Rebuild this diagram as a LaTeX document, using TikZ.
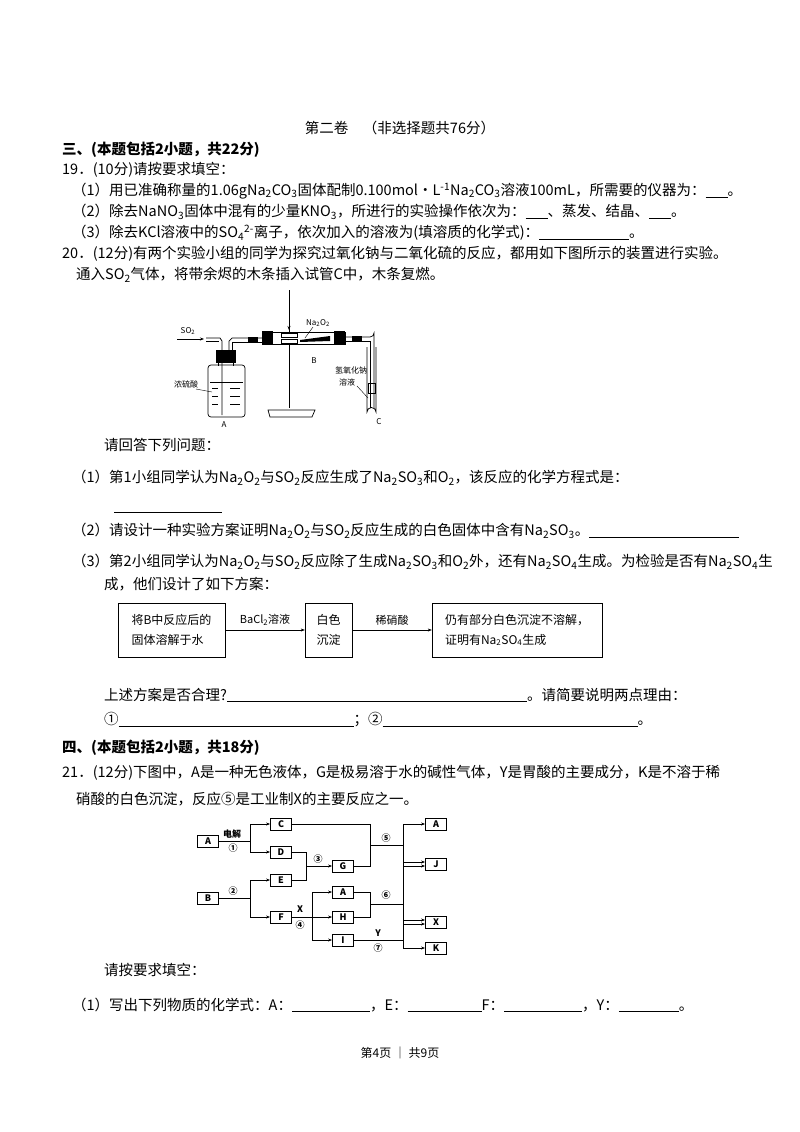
\documentclass[tikz,border=0pt]{standalone}
\usepackage{fontspec}
\setmainfont{Noto Sans CJK SC}
\usetikzlibrary{arrows.meta}
\newcommand{\sbs}[1]{\textsubscript{#1}}
\newcommand{\sps}[1]{\textsuperscript{#1}}
\newcommand{\blank}[1]{\underline{\hspace{#1pt}}}
\begin{document}
\begin{tikzpicture}[x=1pt,y=-1pt,
 txt/.style={anchor=west,inner sep=0,font=\fontsize{14.5}{17}\selectfont},
 fb/.style={draw,thick,minimum width=21pt,minimum height=12pt,inner sep=0,font=\fontsize{9}{9}\selectfont\bfseries},
 lab/.style={inner sep=0,font=\fontsize{9}{9}\selectfont\bfseries},
 arr/.style={-{Stealth[length=4pt,width=3pt]}},
 sb/.style={draw,align=left,inner sep=5pt,font=\fontsize{12}{20}\selectfont},
 ap/.style={line width=0.7pt},
 aplab/.style={inner sep=0,font=\fontsize{8}{9}\selectfont}]
\useasboundingbox (0,0) rectangle (800,1132);
% header
\node[txt,anchor=center] (h) at (400,128) {第二卷\quad （非选择题共76分）};
\node[txt,font=\fontsize{14.5}{17}\selectfont\bfseries] (s3) at (62,150) {三、(本题包括2小题，共22分)};
\node[txt] (q19) at (62,170) {19．(10分)请按要求填空：};
\node[txt] (q19a) at (72,191) {（1）用已准确称量的1.06gNa\sbs{2}CO\sbs{3}固体配制0.100mol·L\sps{-1}Na\sbs{2}CO\sbs{3}溶液100mL，所需要的仪器为：\blank{22}。};
\node[txt] (q19b) at (72,212) {（2）除去NaNO\sbs{3}固体中混有的少量KNO\sbs{3}，所进行的实验操作依次为：\blank{22}、蒸发、结晶、\blank{22}。};
\node[txt] (q19c) at (72,233) {（3）除去KCl溶液中的SO\sbs{4}\sps{2-}离子，依次加入的溶液为(填溶质的化学式)：\blank{90}。};
\node[txt] (q20) at (62,254) {20．(12分)有两个实验小组的同学为探究过氧化钠与二氧化硫的反应，都用如下图所示的装置进行实验。};
\node[txt] (q20b) at (76,275) {通入SO\sbs{2}气体，将带余烬的木条插入试管C中，木条复燃。};
% apparatus
\node[aplab] (so2) at (188,331) {SO\sbs{2}};
\draw[ap,arr] (177,339) -- (204,339);
\draw[ap,rounded corners=3pt] (208,365) rectangle (245,417);
\draw[ap,fill=black] (216,350) rectangle (235,362);
\draw[ap] (218,362) -- (218,366) (233,362)--(233,366);
\foreach \yy in {388,396,404} {\draw (212,\yy) -- (218,\yy); \draw (230,\yy)--(240,\yy);}
\draw (210,382) -- (243,382);
\draw[ap] (206,338) -- (220,338) -- (222,341) -- (222,415);
\draw[ap] (206,341) -- (219,341);
\draw[ap] (229,350) -- (229,341) -- (232,338) -- (262,338);
\draw[ap] (232,350) -- (232,342) -- (262,342);
\fill (248,337) rectangle (258,343);
\node[aplab] (lA) at (186,384) {浓硫酸};
\draw (196,389) -- (212,392);
\node[aplab] (nA) at (224,425) {A};
\draw[ap] (262,332) rectangle (345,344);
\fill (262,331) rectangle (273,345);
\fill (334,331) rectangle (345,345);
\fill (300,340) -- (330,336) -- (330,341) -- (300,342) -- cycle;
\draw[ap] (289,290) -- (289,332) (289,344) -- (289,408);
\draw[ap,arr] (289,318) -- (289,330);
\draw[ap] (281,333) rectangle (297,337);
\draw[ap] (281,339) rectangle (297,343);
\draw[ap] (268,410) -- (315,410) -- (312,417) -- (270,417) -- cycle;
\node[aplab] (nNa) at (318,323) {Na\sbs{2}O\sbs{2}};
\draw (313,327) -- (305,338);
\node[aplab] (nB) at (314,361) {B};
\draw[ap] (345,337) -- (370,337) arc (90:0:4) -- (374,408);
\draw[ap] (345,341) -- (370,341) -- (370,408);
\fill (352,336) rectangle (362,342);
\draw[ap] (367,347) -- (367,412) arc (180:360:4.5) -- (376,347);
\draw (368,383) rectangle (375,393);
\node[aplab] (lC) at (351,370) {氢氧化钠};
\node[aplab] (lC2) at (347,382) {溶液};
\draw (357,386) -- (368,398);
\node[aplab] (nC) at (379,422) {C};
% questions
\node[txt] (ask) at (104,445) {请回答下列问题：};
\node[txt] (p1) at (72,478) {（1）第1小组同学认为Na\sbs{2}O\sbs{2}与SO\sbs{2}反应生成了Na\sbs{2}SO\sbs{3}和O\sbs{2}，该反应的化学方程式是：};
\draw (114,512) -- (222,512);
\node[txt] (p2) at (72,531) {（2）请设计一种实验方案证明Na\sbs{2}O\sbs{2}与SO\sbs{2}反应生成的白色固体中含有Na\sbs{2}SO\sbs{3}。\blank{150}};
\node[txt] (p3) at (72,562) {（3）第2小组同学认为Na\sbs{2}O\sbs{2}与SO\sbs{2}反应除了生成Na\sbs{2}SO\sbs{3}和O\sbs{2}外，还有Na\sbs{2}SO\sbs{4}生成。为检验是否有Na\sbs{2}SO\sbs{4}生};
\node[txt] (p3b) at (104,584) {成，他们设计了如下方案：};
\node[sb,minimum width=107pt,minimum height=54pt] (b1) at (171.5,630) {将B中反应后的\\固体溶解于水};
\node[sb,minimum width=47pt,minimum height=54pt] (b2) at (328.5,630) {白色\\沉淀};
\node[sb,minimum width=170pt,minimum height=54pt] (b3) at (517,630) {仍有部分白色沉淀不溶解，\\证明有Na\sbs{2}SO\sbs{4}生成};
\draw[arr] (b1) -- node[above=1pt,font=\fontsize{11}{11}\selectfont]{BaCl\sbs{2}溶液} (b2);
\draw[arr] (b2) -- node[above=1pt,font=\fontsize{11}{11}\selectfont]{稀硝酸} (b3);
\node[txt] (p4) at (104,695) {上述方案是否合理?\blank{300}。请简要说明两点理由：};
\node[txt] (p5) at (104,720) {①\blank{235}；②\blank{255}。};
\node[txt,font=\fontsize{14.5}{17}\selectfont\bfseries] (s4) at (62,748) {四、(本题包括2小题，共18分)};
\node[txt] (q21) at (62,773) {21．(12分)下图中，A是一种无色液体，G是极易溶于水的碱性气体，Y是胃酸的主要成分，K是不溶于稀};
\node[txt] (q21b) at (76,799) {硝酸的白色沉淀，反应⑤是工业制X的主要反应之一。};
% flow chart
\node[fb] (A1) at (208,841) {A};
\node[fb] (B) at (208,898) {B};
\node[fb] (C) at (281,824) {C};
\node[fb] (D) at (281,852) {D};
\node[fb] (E) at (281,880) {E};
\node[fb] (F) at (281,917) {F};
\node[fb] (G) at (343,866) {G};
\node[fb] (A2) at (343,892) {A};
\node[fb] (H) at (343,917) {H};
\node[fb] (I) at (343,940) {I};
\node[fb] (A3) at (436,824) {A};
\node[fb] (J) at (436,864) {J};
\node[fb] (X) at (436,922) {X};
\node[fb] (K) at (436,948) {K};
\coordinate (j1) at (250,841);
\coordinate (j2) at (250,898);
\coordinate (j3) at (306,866);
\coordinate (j4) at (370,845);
\coordinate (j5) at (403,845);
\coordinate (j6) at (312,917);
\coordinate (j7) at (370,904);
\coordinate (j8) at (403,904);
\coordinate (j9) at (403,940);
\begin{scope}[thick]
\draw (A1) -- (j1);
\draw[arr] (j1) |- (C); \draw[arr] (j1) |- (D);
\draw (B) -- (j2);
\draw[arr] (j2) |- (E); \draw[arr] (j2) |- (F);
\draw (D.east) -| (j3); \draw (E.east) -| (j3);
\draw[arr] (j3) -- (G);
\draw (C.east) -| (j4); \draw (G.east) -| (j4);
\draw (j4) -- (j5);
\draw[arr] (j5) |- (A3); \draw[arr] (j5) |- ([yshift=-2pt]J.west);
\draw (F) -- (j6);
\draw[arr] (j6) |- (A2); \draw[arr] (j6) -- (H); \draw[arr] (j6) |- (I);
\draw (A2.east) -| (j7); \draw (H.east) -| (j7);
\draw (j7) -- (j8);
\draw[arr] (j8) |- ([yshift=2pt]J.west); \draw[arr] (j8) |- ([yshift=-2pt]X.west);
\draw (I) -- (j9);
\draw[arr] (j9) |- ([yshift=2pt]X.west); \draw[arr] (j9) |- (K);
\end{scope}
\node[lab] (l1a) at (232,834) {电解};
\node[lab] (l1b) at (233,848) {①};
\node[lab] (l2) at (233,891) {②};
\node[lab] (l3) at (318,859) {③};
\node[lab] (l5) at (386,838) {⑤};
\node[lab] (lX) at (300,909) {X};
\node[lab] (l4) at (300,925) {④};
\node[lab] (l6) at (386,895) {⑥};
\node[lab] (lY) at (378,933) {Y};
\node[lab] (l7) at (378,948) {⑦};
\node[txt] (ask2) at (104,970) {请按要求填空：};
\node[txt] (r1) at (72,1005) {（1）写出下列物质的化学式：A：\blank{78}，E：\blank{74}F：\blank{78}，Y：\blank{60}。};
\node[txt,anchor=center,font=\fontsize{12}{14}\selectfont] (pg) at (400,1053) {第4页 ｜ 共9页};
\end{tikzpicture}
\end{document}
